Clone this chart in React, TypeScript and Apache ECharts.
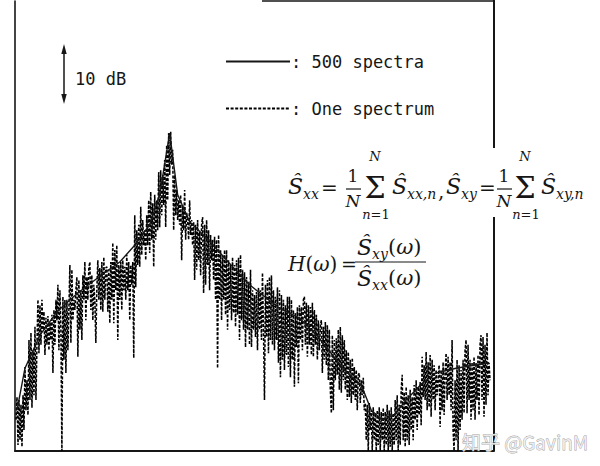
import React, { useEffect, useRef } from "react";
import * as echarts from "echarts";

// Frequency bins (x) run 0..480; level in dB (y) runs 0..75.
const firstBin = 1;
// "One spectrum": one raw spectrum, one value per bin starting at firstBin
const oneSpectrum = [
  5.2, 9.0, 1.0, 8.5, 1.8, 7.7, 0.7, 9.3, 3.5, 14.0,
  6.8, 11.8, 6.0, 18.5, 8.5, 19.7, 7.2, 16.8, 9.3, 20.7,
  8.5, 17.7, 25.2, 16.3, 24.3, 17.7, 25.2, 20.2, 23.2, 16.0,
  22.2, 17.7, 22.5, 16.8, 21.5, 18.5, 22.7, 13.0, 23.5, 17.7,
  25.2, 21.8, 27.7, 16.8, 26.8, 20.2, 0, 25.7, 15.2, 25.2,
  13.0, 25.2, 16.8, 23.5, 31.0, 18.0, 30.2, 21.8, 25.2, 23.5,
  26.8, 29.0, 15.7, 28.5, 20.2, 26.8, 18.5, 29.3, 25.2, 31.5,
  21.8, 29.0, 25.2, 30.5, 31.5, 23.5, 29.3, 21.8, 27.7, 25.2,
  18.0, 26.8, 31.8, 25.2, 30.5, 23.5, 31.5, 23.2, 32.3, 25.2,
  30.5, 30.7, 23.2, 30.2, 21.3, 31.5, 25.2, 34.7, 21.3, 33.5,
  26.8, 34.3, 18.5, 31.0, 25.2, 31.5, 23.5, 31.8, 26.8, 30.7,
  25.2, 32.7, 26.8, 31.5, 21.8, 31.0, 27.7, 31.5, 15.5, 39.3,
  27.3, 36.8, 31.0, 37.7, 30.7, 40.7, 32.7, 38.5, 34.3, 36.8,
  31.8, 39.3, 34.3, 41.8, 33.0, 43.2, 35.2, 41.3, 30.7, 42.7,
  35.2, 41.8, 36.8, 46.5, 37.3, 46.8, 39.3, 46.0, 41.0, 48.5,
  37.3, 51.0, 41.8, 53.0, 46.0, 53.2, 47.7, 50.2, 36.8, 46.0,
  39.3, 43.5, 38.5, 41.8, 37.7, 42.7, 31.8, 41.0, 36.8, 43.5,
  35.2, 39.7, 38.5, 35.2, 41.8, 36.0, 38.5, 34.3, 38.2, 28.5,
  37.7, 30.2, 38.5, 31.8, 36.5, 29.3, 37.7, 39.0, 26.3, 37.7,
  27.7, 38.5, 31.0, 36.8, 26.8, 36.0, 31.8, 35.2, 28.5, 35.7,
  25.2, 35.2, 13.8, 36.0, 25.2, 33.5, 21.8, 32.7, 25.2, 33.5,
  22.7, 33.5, 20.2, 31.8, 23.5, 31.0, 21.8, 32.3, 23.0, 31.0,
  20.7, 31.8, 22.7, 32.2, 18.5, 32.7, 21.8, 30.2, 20.2, 29.8,
  17.3, 29.0, 20.2, 28.2, 17.7, 30.2, 17.3, 26.8, 20.2, 26.0,
  19.0, 26.5, 16.8, 27.2, 20.2, 26.8, 18.5, 29.7, 20.2, 8.5,
  27.7, 19.0, 28.5, 16.3, 29.0, 18.5, 29.3, 17.7, 26.8, 16.8,
  25.7, 18.5, 27.3, 14.7, 26.8, 12.3, 26.0, 15.2, 25.2, 13.5,
  24.3, 16.0, 25.7, 14.0, 25.7, 12.3, 25.2, 15.2, 23.5, 10.7,
  23.0, 17.3, 24.0, 11.3, 24.3, 18.5, 24.0, 16.8, 25.2, 25.7,
  17.7, 24.7, 15.7, 24.3, 17.7, 24.0, 16.0, 24.7, 15.7, 23.5,
  17.7, 22.7, 15.2, 21.8, 16.8, 21.0, 21.8, 13.0, 20.7, 15.2,
  21.5, 14.3, 21.0, 11.8, 20.2, 10.2, 6.3, 19.3, 6.8, 18.5,
  11.8, 18.8, 12.7, 20.2, 10.2, 20.7, 9.7, 19.3, 11.8, 18.5,
  10.2, 16.8, 8.5, 16.5, 9.0, 15.2, 8.0, 15.5, 9.3, 14.0,
  8.5, 13.5, 6.8, 12.7, 13.0, 8.0, 11.8, 9.3, 12.2, 6.8,
  8.0, 1.8, 7.7, 0, 8.0, 3.5, 6.8, 0, 7.3, 1.8,
  6.3, 0, 6.8, 1.0, 7.3, 0, 6.5, 1.8, 7.2, 0,
  6.5, 1.0, 7.7, 0, 6.8, 0.7, 7.3, 0, 6.3, 1.0,
  8.5, 1.8, 9.3, 0, 7.7, 1.0, 10.2, 12.7, 1.8, 9.8,
  0.7, 10.7, 1.8, 9.3, 1.0, 10.2, 3.5, 9.0, 1.8, 11.0,
  5.2, 11.8, 3.5, 10.7, 6.0, 11.5, 4.3, 15.7, 9.0, 14.3,
  8.5, 16.5, 6.8, 14.8, 7.3, 16.0, 5.7, 15.2, 8.5, 14.3,
  6.8, 13.5, 9.3, 11.8, 14.3, 4.0, 13.5, 6.8, 14.8, 6.0,
  13.2, 16.3, 8.5, 15.7, 9.3, 14.8, 6.8, 18.5, 3.5, 0,
  11.8, 1.8, 15.2, 0, 14.3, 3.5, 13.5, 5.2, 15.2, 6.3,
  16.8, 18.5, 6.3, 17.7, 8.5, 15.2, 5.2, 14.8, 6.8, 15.7,
  5.2, 14.7, 8.5, 16.0, 6.0, 17.7, 19.3, 8.5, 19.0, 5.7,
  17.7, 7.7, 19.7, 9.3, 14.7, 11.8,
];

// "500 spectra": averaged spectrum (bins and levels)
const avgBins = [2, 10, 25, 42, 62, 88, 105, 120, 135, 145, 155, 163, 175, 192, 212, 235, 265, 285, 305, 330, 347, 357, 368, 380, 392, 408, 422, 442, 475];
const avgLevels = [6.8, 13.8, 19.3, 23.2, 26.2, 29.5, 31.5, 34.3, 37.7, 42.7, 53.0, 42.7, 38.2, 35.5, 31.8, 27.7, 23.8, 22.2, 18.8, 13.5, 11.0, 6.8, 5.2, 6.0, 8.5, 11.3, 13.0, 13.8, 14.7];

const seriesNames = ["500 spectra", "One spectrum"];
const scaleLabel = "10 dB";
const watermark = "知乎 @GavinM";

const SERIF = '"DejaVu Serif", "Liberation Serif", serif';
const MONO = '"DejaVu Sans Mono", monospace';
const INK = "#161616";

const RICH = {
  i: { fontFamily: SERIF, fontStyle: "italic", fontSize: 21, color: INK },
  n: { fontFamily: SERIF, fontStyle: "normal", fontSize: 21, color: INK },
  hi: { fontFamily: SERIF, fontStyle: "italic", fontSize: 20, color: INK },
  hn: { fontFamily: SERIF, fontStyle: "normal", fontSize: 20, color: INK },
  si: { fontFamily: SERIF, fontStyle: "italic", fontSize: 13, color: INK },
  sn: { fontFamily: SERIF, fontStyle: "normal", fontSize: 13, color: INK },
};

function txt(text: string, x: number, y: number, size: number, italic: boolean, align = "left", family = SERIF) {
  return {
    type: "text",
    x,
    y,
    z: 20,
    style: {
      text,
      font: `${italic ? "italic " : ""}${size}px ${family}`,
      fill: INK,
      textAlign: align,
      textVerticalAlign: "middle",
      align,
      verticalAlign: "middle",
    },
  };
}
function rtxt(text: string, x: number, y: number, align = "left") {
  return {
    type: "text",
    x,
    y,
    z: 20,
    style: {
      text,
      rich: RICH,
      fill: INK,
      textAlign: align,
      textVerticalAlign: "middle",
      align,
      verticalAlign: "middle",
    },
  };
}
function hline(x1: number, x2: number, y: number, w = 1.2) {
  return { type: "line", z: 20, shape: { x1, y1: y, x2, y2: y }, style: { stroke: INK, lineWidth: w } };
}

function buildFormula() {
  const els: any[] = [];
  // white box behind first formula line
  els.push({ type: "rect", z: 15, shape: { x: 280, y: 148, width: 320, height: 69 }, style: { fill: "#fff" } });
  // line 1: Ŝxx = 1/N Σ Ŝxx,n , Ŝxy = 1/N Σ Ŝxy,n
  const y = 188;
  els.push(txt("Ŝ", 288, y - 2, 22, true));
  els.push(txt("xx", 303, y + 6, 14, true));
  els.push(txt("=", 321, y, 20, false));
  els.push(txt("1", 353, y - 12, 17, false, "center"));
  els.push(hline(346, 361, y + 1));
  els.push(txt("N", 353, y + 13, 17, true, "center"));
  els.push(txt("Σ", 375, y - 1, 30, false, "center"));
  els.push(txt("N", 375, y - 32, 13, true, "center"));
  els.push(rtxt("{si|n}{sn|=1}", 376, y + 26, "center"));
  els.push(txt("Ŝ", 392, y - 2, 22, true));
  els.push(txt("xx,n", 407, y + 6, 14, true));
  els.push(txt(",", 438, y + 3, 20, false));
  els.push(txt("Ŝ", 446, y - 2, 22, true));
  els.push(txt("xy", 461, y + 6, 14, true));
  els.push(txt("=", 479, y, 20, false));
  els.push(txt("1", 504, y - 12, 17, false, "center"));
  els.push(hline(497, 512, y + 1));
  els.push(txt("N", 504, y + 13, 17, true, "center"));
  els.push(txt("Σ", 525, y - 1, 30, false, "center"));
  els.push(txt("N", 525, y - 32, 13, true, "center"));
  els.push(rtxt("{si|n}{sn|=1}", 526, y + 26, "center"));
  els.push(txt("Ŝ", 541, y - 2, 22, true));
  els.push(txt("xy,n", 556, y + 6, 14, true));
  // line 2: H(ω) = Ŝxy(ω) / Ŝxx(ω)
  const y2 = 264;
  els.push(rtxt("{hi|H}{hn|(}{hi|ω}{hn|)}", 288, y2));
  els.push(txt("=", 341, y2, 19, false));
  els.push(txt("Ŝ", 357, y2 - 17, 22, true));
  els.push(txt("xy", 372, y2 - 10, 14, true));
  els.push(rtxt("{n|(}{i|ω}{n|)}", 388, y2 - 17));
  els.push(hline(355, 426, y2 - 2));
  els.push(txt("Ŝ", 357, y2 + 14, 22, true));
  els.push(txt("xx", 372, y2 + 21, 14, true));
  els.push(rtxt("{n|(}{i|ω}{n|)}", 388, y2 + 14));
  return els;
}

export default function App() {
  const ref = useRef<HTMLDivElement>(null);
  useEffect(() => {
    if (!ref.current) return;
    const chart = echarts.init(ref.current, undefined, { renderer: "svg" });
    const dashedData = oneSpectrum.map((v, i) => [firstBin + i, v]);
    const avgData = avgBins.map((b, i) => [b, avgLevels[i]]);

    const graphic: any[] = [
      // right and top frame
      { type: "line", z: 10, shape: { x1: 494, y1: 0, x2: 494, y2: 451 }, style: { stroke: INK, lineWidth: 2 } },
      { type: "line", z: 10, shape: { x1: 262, y1: 1, x2: 494, y2: 1 }, style: { stroke: INK, lineWidth: 1.5 } },
      // 10 dB scale arrow
      { type: "line", z: 20, shape: { x1: 64, y1: 50, x2: 64, y2: 99 }, style: { stroke: INK, lineWidth: 1.5 } },
      { type: "polygon", z: 20, shape: { points: [[64, 44], [61.3, 54], [66.7, 54]] }, style: { fill: INK } },
      { type: "polygon", z: 20, shape: { points: [[64, 104], [61.3, 94], [66.7, 94]] }, style: { fill: INK } },
      txt(scaleLabel, 75, 79, 17, false, "left", MONO),
      ...buildFormula(),
      {
        type: "text",
        x: 462,
        y: 441,
        z: 30,
        style: {
          text: watermark,
          font: '19px "Noto Sans CJK SC", "Noto Sans", sans-serif',
          fill: "rgba(240,240,240,0.92)",
          stroke: "rgba(140,140,140,0.85)",
          lineWidth: 0.8,
          textVerticalAlign: "middle",
          verticalAlign: "middle",
        },
      },
    ];

    chart.setOption({
      animation: false,
      backgroundColor: "#ffffff",
      grid: { left: 15, right: 106, top: 1, bottom: 15, containLabel: false },
      legend: {
        orient: "vertical",
        left: 225,
        top: 53,
        padding: 0,
        itemWidth: 64,
        itemHeight: 14,
        itemGap: 30,
        data: seriesNames,
        itemStyle: { opacity: 0 },
        formatter: (name: string) => ": " + name,
        textStyle: { fontFamily: MONO, fontSize: 17, color: INK, padding: [0, 0, 0, -4] },
      },
      xAxis: {
        type: "value",
        min: 0,
        max: 480,
        axisLine: { show: true, onZero: false, lineStyle: { color: INK, width: 2 } },
        axisTick: { show: false },
        axisLabel: { show: false },
        splitLine: { show: false },
      },
      yAxis: {
        type: "value",
        min: 0,
        max: 75,
        axisLine: { show: true, lineStyle: { color: INK, width: 1.6 } },
        axisTick: { show: false },
        axisLabel: { show: false },
        splitLine: { show: false },
      },
      series: [
        {
          name: seriesNames[0],
          type: "line",
          data: avgData,
          symbol: "none",
          z: 3,
          lineStyle: { color: INK, width: 1.4, type: "solid" },
          itemStyle: { color: INK },
        },
        {
          name: seriesNames[1],
          type: "line",
          data: dashedData,
          symbol: "none",
          z: 2,
          lineStyle: { color: "#000", width: 1.55, type: [3, 1.6] },
          itemStyle: { color: INK },
        },
      ],
      graphic,
    });
    return () => chart.dispose();
  }, []);
  return (
    <div
      ref={ref}
      style={{ position: "fixed", left: 0, top: 0, width: 600, height: 466, background: "#fff" }}
    />
  );
}
